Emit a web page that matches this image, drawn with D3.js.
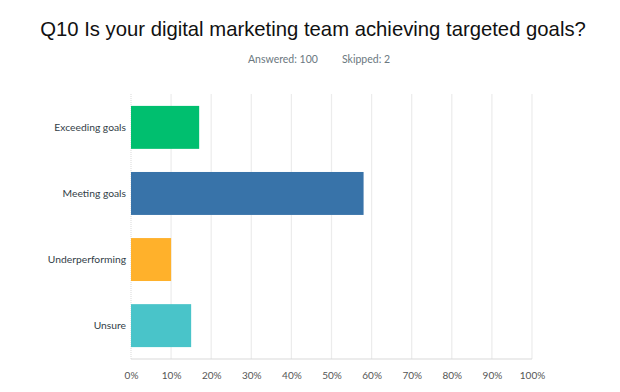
<!DOCTYPE html>
<html><head><meta charset="utf-8">
<script src="https://cdn.jsdelivr.net/npm/d3@7"></script>
<style>body{margin:0;background:#fff;}svg{display:block;}</style>
</head><body>
<svg id="c" width="620" height="392"></svg>
<script>
const categories = ["Exceeding goals", "Meeting goals", "Underperforming", "Unsure"];
const values = [17, 58, 10, 15];
const colors = ["#00bf6f", "#3873a9", "#ffb12b", "#49c4c9"];
const xTicks = [0,10,20,30,40,50,60,70,80,90,100];
const title = "Q10 Is your digital marketing team achieving targeted goals?";
const answered = "Answered: 100", skipped = "Skipped: 2";

const svg = d3.select("#c");
const m = {l:131, r:88, t:94, b:33};
const W = 620, H = 392;
const x = d3.scaleLinear().domain([0,100]).range([m.l, W - m.r]);
const y = d3.scaleBand().domain(categories).range([m.t, H - m.b]).paddingInner(0.35).paddingOuter(0.18);

svg.append("text").attr("x", 313).attr("y", 35.5).attr("text-anchor","middle")
  .attr("font-family","Liberation Sans, Arial, sans-serif").attr("font-size", 20.3).attr("fill","#111").text(title);
const sub = svg.append("text").attr("y", 63).attr("font-family","Lato, sans-serif").attr("font-size", 10.5).attr("fill","#6b7880");
sub.append("tspan").attr("x", 248).text(answered);
sub.append("tspan").attr("x", 342).text(skipped);

// gridlines
svg.append("g").selectAll("line").data(xTicks.slice(1)).join("line")
  .attr("x1", d=>x(d)).attr("x2", d=>x(d)).attr("y1", m.t).attr("y2", H - m.b)
  .attr("stroke","#ececec").attr("stroke-width",1.2);

// axis lines
svg.append("line").attr("x1", x(0)).attr("x2", x(0)).attr("y1", m.t).attr("y2", H-m.b).attr("stroke","#d9d9d9").attr("stroke-dasharray","1,1");
svg.append("line").attr("x1", x(0)).attr("x2", x(100)).attr("y1", H-m.b).attr("y2", H-m.b).attr("stroke","#d9d9d9");

// bars
svg.append("g").selectAll("rect").data(categories).join("rect")
  .attr("x", x(0)).attr("y", d=>y(d)).attr("width", (d,i)=>x(values[i]) - x(0)).attr("height", y.bandwidth())
  .attr("fill", (d,i)=>colors[i]);

// y labels
svg.append("g").selectAll("text").data(categories).join("text")
  .attr("x", x(0) - 5).attr("y", d=>y(d) + y.bandwidth()/2).attr("dy","0.35em").attr("text-anchor","end")
  .attr("font-family","Lato, sans-serif").attr("font-size", 10.3).attr("fill","#333e48").text(d=>d);

// x labels
const xAxis = d3.axisBottom(x).tickValues(xTicks).tickFormat(d=>d+"%").tickSize(0).tickPadding(13);
const gx = svg.append("g").attr("transform", `translate(0,${H-m.b})`).call(xAxis);
gx.select(".domain").remove();
gx.selectAll("text").attr("font-family","Lato, sans-serif").attr("font-size", 10).attr("fill","#555");
</script>
</body></html>
